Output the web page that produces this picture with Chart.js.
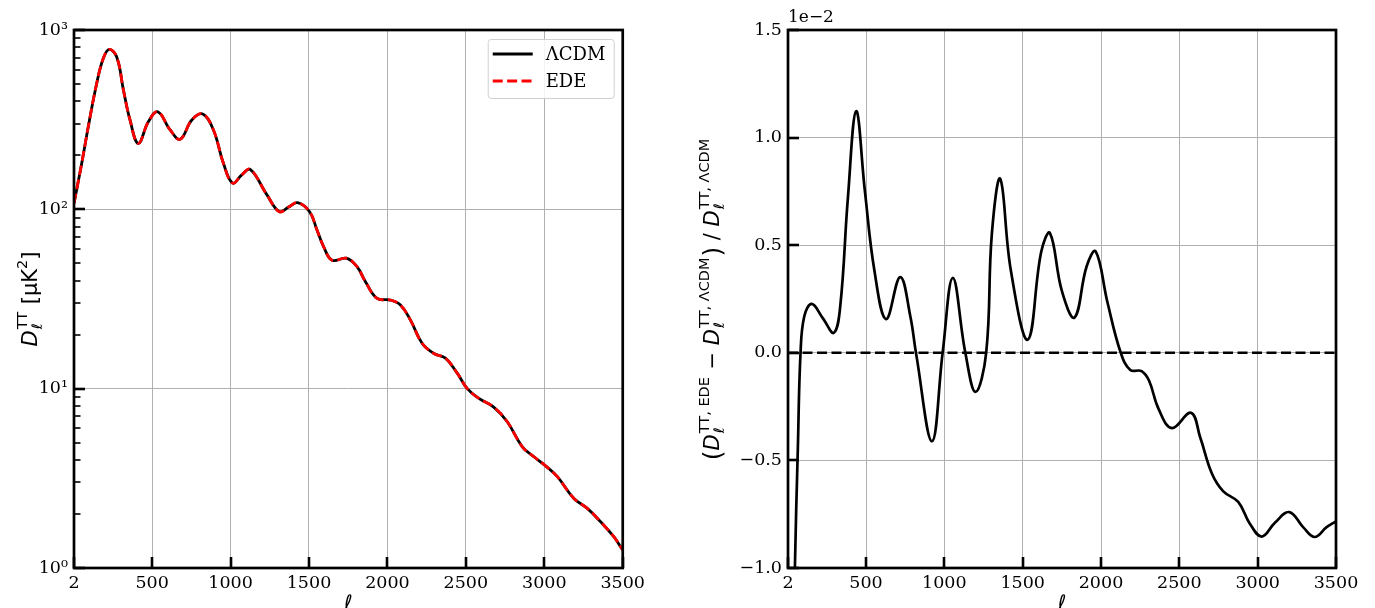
<!DOCTYPE html>
<html>
<head>
<meta charset="utf-8">
<script src="https://cdn.jsdelivr.net/npm/chart.js@4.4.0/dist/chart.umd.min.js"></script>
<style>
  html, body { margin: 0; padding: 0; background: #fff; }
  body { width: 1375px; height: 608px; position: relative; overflow: hidden; }
  #spectrum { position: absolute; left: 0; top: 0; }
  #residual { position: absolute; left: 660px; top: 0; }
</style>
</head>
<body>
<canvas id="spectrum" width="650" height="608"></canvas>
<canvas id="residual" width="715" height="608"></canvas>
<script>
// ===== DATA =====
const xTicks = [2, 500, 1000, 1500, 2000, 2500, 3000, 3500];
const dlTicks = [1, 10, 100, 1000];
const dlTickLabels = ['10⁰', '10¹', '10²', '10³'];
const ratioTicks = [-1.0, -0.5, 0.0, 0.5, 1.0, 1.5];
const ratioTickLabels = ['−1.0', '−0.5', '0.0', '0.5', '1.0', '1.5'];

// left panel: D_l^TT in muK^2
const ellSpec = [2, 51, 93, 147, 189, 227, 275, 317, 359, 412, 476, 536, 615, 679, 753, 823, 891, 955, 1013,
  1070, 1125, 1233, 1311, 1370, 1427, 1504, 1551, 1593, 1647, 1738, 1806, 1860, 1934, 2019, 2083, 2147,
  2221, 2296, 2370, 2445, 2509, 2583, 2679, 2764, 2860, 2934, 3010, 3083, 3189, 3274, 3359, 3444, 3500];
const dlLcdm = [108, 180, 289, 505, 695, 780, 705, 463, 315, 233, 308, 350, 277, 246, 315, 340, 277, 180, 140,
  155, 167, 120, 97, 103, 109, 97, 76.7, 62, 52, 53.4, 47.9, 39.5, 31.9, 31.2, 29.3, 24.1,
  17.9, 15.7, 14.8, 12.2, 10.0, 8.83, 7.87, 6.54, 4.74, 4.17, 3.70, 3.23, 2.44, 2.15, 1.81, 1.49, 1.26];
// EDE is indistinguishable from LCDM at this scale
const dlEde = [108, 180, 289, 505, 695, 780, 705, 463, 315, 233, 308, 350, 277, 246, 315, 340, 277, 180, 140,
  155, 167, 120, 97, 103, 109, 97, 76.7, 62, 52, 53.4, 47.9, 39.5, 31.9, 31.2, 29.3, 24.1,
  17.9, 15.7, 14.8, 12.2, 10.0, 8.83, 7.87, 6.54, 4.74, 4.17, 3.70, 3.23, 2.44, 2.15, 1.81, 1.49, 1.26];

// right panel: relative difference, in units of 1e-2
const ellRatio = [2, 35, 46, 65, 82, 106, 154, 225, 295, 336, 384, 437, 493, 553, 628, 718, 783, 820, 921,
  989, 1054, 1134, 1199, 1267, 1303, 1357, 1424, 1533, 1618, 1674, 1751, 1831, 1908, 1966, 2041, 2126,
  2187, 2259, 2307, 2368, 2453, 2574, 2634, 2707, 2779, 2876, 2949, 3026, 3110, 3202, 3290, 3364, 3440, 3500];
const ratioValues = [-3.0, -1.6, -1.0, -0.44, 0.0, 0.17, 0.227, 0.16, 0.093, 0.22, 0.716, 1.123, 0.75, 0.385,
  0.156, 0.352, 0.169, -0.005, -0.411, 0.0, 0.348, 0.0, -0.182, 0.0, 0.55, 0.808, 0.385, 0.061, 0.468,
  0.556, 0.285, 0.164, 0.401, 0.471, 0.235, 0.0, -0.08, -0.085, -0.13, -0.262, -0.35, -0.279, -0.395,
  -0.56, -0.643, -0.693, -0.793, -0.854, -0.79, -0.74, -0.81, -0.856, -0.81, -0.783];
const ellZero = [2, 3500];
const zeroValues = [0, 0];

const toPoints = (xs, ys) => xs.map((x, i) => ({ x: x, y: ys[i] }));

const SERIF = "'DejaVu Serif', serif";
const SANS = "'DejaVu Sans', sans-serif";

// ===== RICH TEXT (rotated axis titles) =====
function pieceWidth(ctx, p) {
  if (p.stack) {
    ctx.font = p.font;
    const w1 = ctx.measureText(p.sup).width;
    ctx.font = p.subFont;
    return Math.max(ctx.measureText(p.sub).width, w1) + 2;
  }
  ctx.font = p.font;
  return ctx.measureText(p.text).width;
}

function drawRotatedRich(ctx, parts, cx, cy) {
  ctx.save();
  ctx.translate(cx, cy);
  ctx.rotate(-Math.PI / 2);
  ctx.fillStyle = '#000';
  ctx.textAlign = 'left';
  ctx.textBaseline = 'alphabetic';
  const widths = parts.map(p => pieceWidth(ctx, p));
  const total = widths.reduce((a, b) => a + b, 0);
  let x = -total / 2;
  const base = 7;
  parts.forEach((p, i) => {
    if (p.stack) {
      ctx.font = p.subFont;
      ctx.fillText(p.sub, x + 1, base + 5);
      ctx.font = p.font;
      ctx.fillText(p.sup, x + 1, base - 10);
    } else {
      ctx.font = p.font;
      ctx.fillText(p.text, x, base + (p.dy || 0));
    }
    x += widths[i];
  });
  ctx.restore();
}

const mainF = '21px ' + SANS;
const italF = 'italic 21px ' + SANS;
const smallF = '14.5px ' + SANS;
const smallItF = 'italic 14.5px ' + SANS;
const stackTT = sup => ({ stack: true, sub: 'ℓ', sup: sup, font: smallF, subFont: smallItF });

const leftTitle = [
  { text: 'D', font: italF },
  stackTT('TT'),
  { text: ' [μK', font: mainF },
  { text: '2', font: smallF, dy: -10 },
  { text: ']', font: mainF }
];
const rightTitle = [
  { text: '(', font: '25px ' + SANS, dy: 2 },
  { text: 'D', font: italF },
  stackTT('TT, EDE'),
  { text: ' − ', font: mainF },
  { text: 'D', font: italF },
  stackTT('TT, ΛCDM'),
  { text: ')', font: '25px ' + SANS, dy: 2 },
  { text: ' / ', font: mainF },
  { text: 'D', font: italF },
  stackTT('TT, ΛCDM')
];

// ===== FRAME, INWARD TICKS, LABELS =====
const framePlugin = {
  id: 'frame',
  afterDraw(chart, args, opts) {
    const { ctx, chartArea: a, scales } = chart;
    ctx.save();
    ctx.strokeStyle = '#000';
    ctx.lineCap = 'butt';
    // major ticks
    ctx.lineWidth = 2.6;
    scales.x.ticks.forEach(t => {
      const px = Math.round(scales.x.getPixelForValue(t.value));
      ctx.beginPath(); ctx.moveTo(px, a.bottom); ctx.lineTo(px, a.bottom - 11); ctx.stroke();
    });
    scales.y.ticks.forEach(t => {
      const py = Math.round(scales.y.getPixelForValue(t.value));
      ctx.beginPath(); ctx.moveTo(a.left, py); ctx.lineTo(a.left + 11, py); ctx.stroke();
    });
    // minor ticks for log axis
    if (opts.minorLog) {
      ctx.lineWidth = 1.6;
      for (let d = 1; d < 1000; d *= 10) {
        for (let k = 2; k < 10; k++) {
          const py = Math.round(scales.y.getPixelForValue(d * k));
          ctx.beginPath(); ctx.moveTo(a.left, py); ctx.lineTo(a.left + 6.5, py); ctx.stroke();
        }
      }
    }
    // frame
    ctx.lineWidth = 2.7;
    ctx.strokeRect(a.left, a.top, a.right - a.left, a.bottom - a.top);

    // x title
    ctx.fillStyle = '#000';
    ctx.font = italF;
    ctx.textAlign = 'center';
    ctx.textBaseline = 'alphabetic';
    ctx.fillText('ℓ', (a.left + a.right) / 2, 610);

    // y title
    drawRotatedRich(ctx, opts.title, opts.titleX, (a.top + a.bottom) / 2);

    // offset text
    if (opts.offset) {
      ctx.font = '17px ' + SERIF;
      ctx.textAlign = 'left';
      ctx.fillText(opts.offset, a.left, 22);
    }

    // legend
    if (opts.legend) {
      const bx = a.right - 135, by = a.top + 9, bw = 126, bh = 59;
      ctx.fillStyle = 'rgba(255,255,255,0.85)';
      ctx.strokeStyle = '#d0d0d0';
      ctx.lineWidth = 1;
      ctx.beginPath();
      ctx.roundRect(bx + 0.5, by + 0.5, bw, bh, 3);
      ctx.fill(); ctx.stroke();
      chart.data.datasets.forEach((ds, i) => {
        const ly = by + 15 + i * 27;
        ctx.strokeStyle = ds.borderColor;
        ctx.lineWidth = ds.borderWidth;
        ctx.setLineDash(ds.borderDash || []);
        ctx.beginPath(); ctx.moveTo(bx + 5, ly); ctx.lineTo(bx + 45, ly); ctx.stroke();
        ctx.setLineDash([]);
        ctx.fillStyle = '#000';
        ctx.font = '18px ' + SERIF;
        ctx.textAlign = 'left';
        ctx.textBaseline = 'middle';
        ctx.fillText(ds.label, bx + 58, ly + 1);
      });
    }
    ctx.restore();
  }
};

function axisX() {
  return {
    type: 'linear', min: 2, max: 3500,
    afterBuildTicks: s => { s.ticks = xTicks.map(v => ({ value: v })); },
    afterFit: s => { s.height = 40; },
    ticks: { color: '#000', font: { family: SERIF, size: 17.5 }, padding: 5, maxRotation: 0, autoSkip: false,
      callback: v => String(v) },
    grid: { color: '#b0b0b0', lineWidth: 1, drawTicks: false },
    border: { display: false }
  };
}

// ===== LEFT: SPECTRUM =====
new Chart(document.getElementById('spectrum'), {
  type: 'line',
  data: {
    datasets: [
      { label: 'ΛCDM', data: toPoints(ellSpec, dlLcdm), borderColor: '#000000', borderWidth: 2.8,
        pointRadius: 0, tension: 0.4, fill: false, order: 2 },
      { label: 'EDE', data: toPoints(ellSpec, dlEde), borderColor: '#ff0000', borderWidth: 2.8,
        borderDash: [10, 4.4], pointRadius: 0, tension: 0.4, fill: false, order: 1 }
    ]
  },
  options: {
    responsive: false, animation: false, events: [],
    layout: { padding: { top: 30, right: 27, left: 0, bottom: 0 } },
    plugins: {
      legend: { display: false }, tooltip: { enabled: false },
      frame: { minorLog: true, legend: true, title: leftTitle, titleX: 30 }
    },
    scales: {
      x: axisX(),
      y: {
        type: 'logarithmic', min: 1, max: 1000,
        afterBuildTicks: s => { s.ticks = dlTicks.map(v => ({ value: v })); },
        afterFit: s => { s.width = 74; },
        ticks: { color: '#000', font: { family: SERIF, size: 17.5 }, padding: 6,
          callback: (v, i) => dlTickLabels[i] },
        grid: { color: '#b0b0b0', lineWidth: 1, drawTicks: false },
        border: { display: false }
      }
    }
  },
  plugins: [framePlugin]
});

// ===== RIGHT: RELATIVE DIFFERENCE =====
new Chart(document.getElementById('residual'), {
  type: 'line',
  data: {
    datasets: [
      { label: 'zero', data: toPoints(ellZero, zeroValues), borderColor: '#000000', borderWidth: 2.4,
        borderDash: [10, 4.5], pointRadius: 0, fill: false },
      { label: 'ratio', data: toPoints(ellRatio, ratioValues), borderColor: '#000000', borderWidth: 2.7,
        pointRadius: 0, tension: 0.4, fill: false }
    ]
  },
  options: {
    responsive: false, animation: false, events: [],
    layout: { padding: { top: 30, right: 39, left: 0, bottom: 0 } },
    plugins: {
      legend: { display: false }, tooltip: { enabled: false },
      frame: { minorLog: false, legend: false, title: rightTitle, titleX: 52, offset: '1e−2' }
    },
    scales: {
      x: axisX(),
      y: {
        type: 'linear', min: -1.0, max: 1.5,
        afterBuildTicks: s => { s.ticks = ratioTicks.map(v => ({ value: v })); },
        afterFit: s => { s.width = 128; },
        ticks: { color: '#000', font: { family: SERIF, size: 17.5 }, padding: 6,
          callback: (v, i) => ratioTickLabels[i] },
        grid: { color: '#b0b0b0', lineWidth: 1, drawTicks: false },
        border: { display: false }
      }
    }
  },
  plugins: [framePlugin]
});
</script>
</body>
</html>
